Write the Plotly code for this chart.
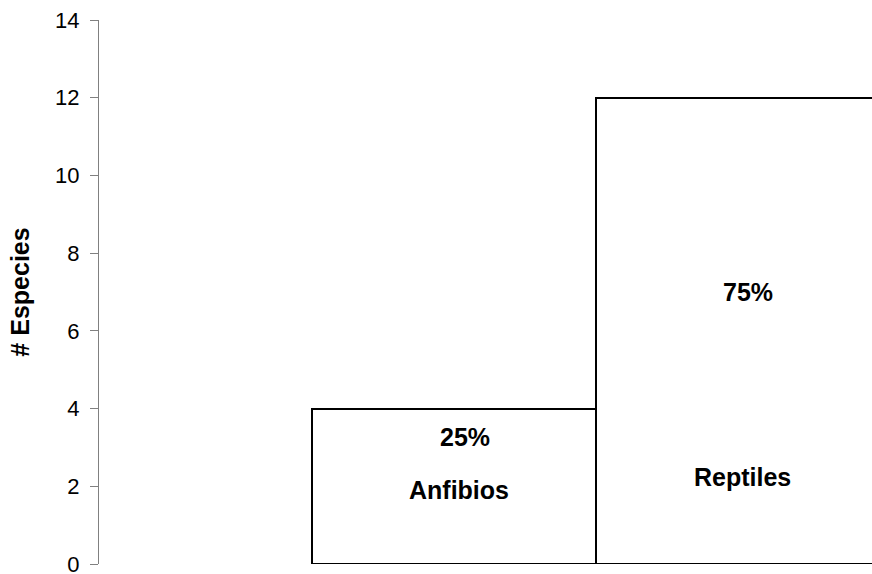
import plotly.graph_objects as go

categories = ["Anfibios", "Reptiles"]
species = [4, 12]
percent_labels = ["25%", "75%"]
y_ticks = [0, 2, 4, 6, 8, 10, 12, 14]

FONT = "Liberation Sans, Arial, sans-serif"

fig = go.Figure()
fig.add_trace(go.Bar(
    x=[0, 1], y=species, width=1,
    marker=dict(color="white", line=dict(color="black", width=2)),
    hoverinfo="skip", showlegend=False,
))

font_b = dict(family=FONT, size=25, color="black")
# percentage and name labels inside each bar
fig.add_annotation(x=0, y=3.26, text="<b>" + percent_labels[0] + "</b>", showarrow=False, font=font_b, xshift=11)
fig.add_annotation(x=0, y=1.9, text="<b>" + categories[0] + "</b>", showarrow=False, font=font_b, xshift=5)
fig.add_annotation(x=1, y=7.0, text="<b>" + percent_labels[1] + "</b>", showarrow=False, font=font_b, xshift=10)
fig.add_annotation(x=1, y=2.23, text="<b>" + categories[1] + "</b>", showarrow=False, font=font_b, xshift=5)

fig.update_layout(
    width=872, height=574,
    margin=dict(l=99, r=0, t=20, b=10, autoexpand=False),
    plot_bgcolor="white", paper_bgcolor="white",
    bargap=0,
    xaxis=dict(range=[-1.25, 1.472], visible=False, fixedrange=True),
    yaxis=dict(
        range=[0, 14], tickvals=y_ticks, ticks="outside", ticklen=8,
        tickcolor="#808080", showline=True, linecolor="#808080", linewidth=1,
        showgrid=False, zeroline=False, automargin=False,
        ticklabelstandoff=6, ticklabeloverflow="allow",
        tickfont=dict(family=FONT, size=22, color="black"),
        title=dict(text="<b># Especies</b>", standoff=18,
                   font=dict(family=FONT, size=25, color="black")),
    ),
)

fig.write_html("out.html", config={"displayModeBar": False},
               post_script="document.body.style.margin='0';document.body.style.padding='0';")
